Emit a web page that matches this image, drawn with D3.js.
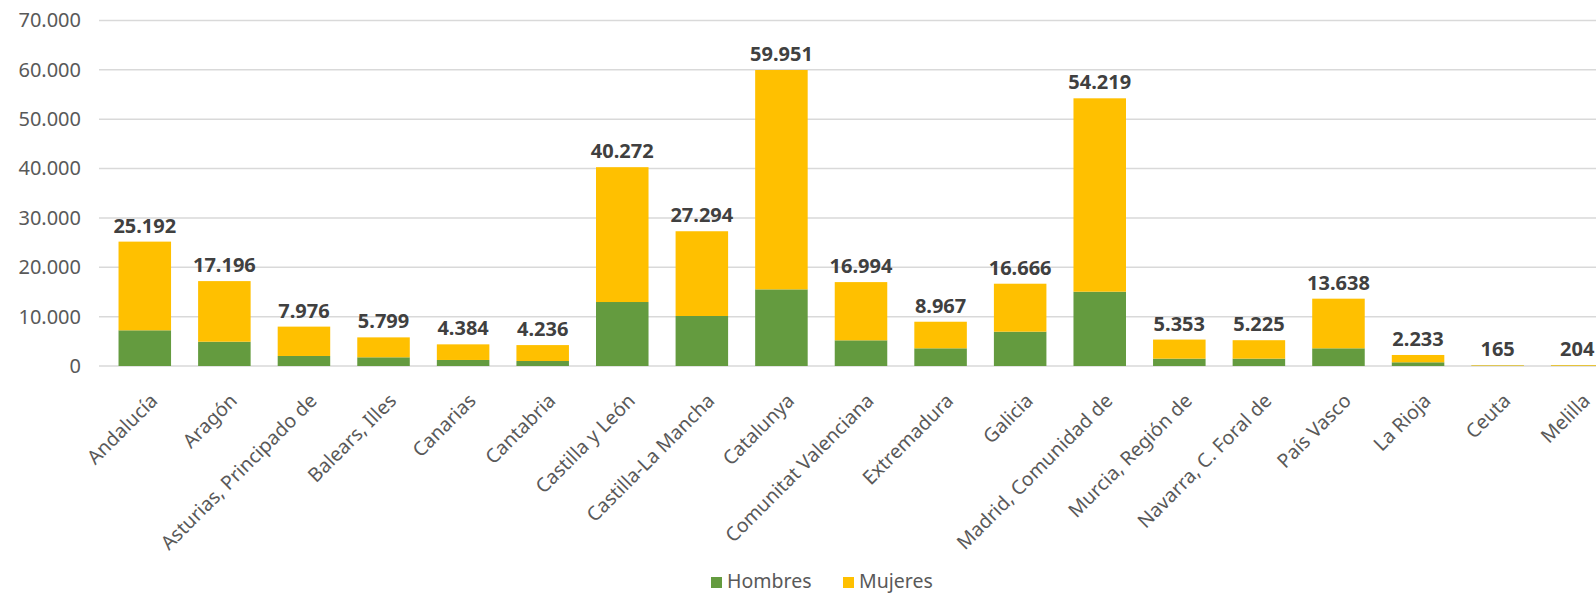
<!DOCTYPE html>
<html><head><meta charset="utf-8">
<script src="https://cdn.jsdelivr.net/npm/d3@7"></script>
<style>body{margin:0;background:#fff}svg{display:block}</style>
</head><body><svg id="c" width="1596" height="593"></svg>
<script>
const categories = ["Andalucía","Aragón","Asturias, Principado de","Balears, Illes","Canarias","Cantabria","Castilla y León","Castilla-La Mancha","Catalunya","Comunitat Valenciana","Extremadura","Galicia","Madrid, Comunidad de","Murcia, Región de","Navarra, C. Foral de","País Vasco","La Rioja","Ceuta","Melilla"];
const totals = [25192,17196,7976,5799,4384,4236,40272,27294,59951,16994,8967,16666,54219,5353,5225,13638,2233,165,204];
const hombres = [7230,4920,2030,1760,1220,1010,12960,10130,15520,5200,3580,6950,15050,1490,1490,3580,750,60,70];
const mujeres = totals.map((t,i)=>t-hombres[i]);
const yTicks = [0,10000,20000,30000,40000,50000,60000,70000];
const seriesNames = ["Hombres","Mujeres"];
const colors = ["#649b3f","#ffc000"];

const fmt = v => d3.format(",")(v).replace(/,/g,".");
const svg = d3.select("#c");
const font = "'Noto Sans', sans-serif";

const x = d3.scaleBand().domain(categories).range([105,1617]).paddingInner(0.34).paddingOuter(0.17);
const y = d3.scaleLinear().domain([0,70000]).range([366,20.4]);

// gridlines
svg.append("g").selectAll("line").data(yTicks).join("line")
  .attr("x1",99).attr("x2",1596)
  .attr("y1",d=>y(d)).attr("y2",d=>y(d))
  .attr("stroke","#d9d9d9").attr("stroke-width",1.5);

// y axis labels
const yAxis = d3.axisLeft(y).tickValues(yTicks).tickFormat(fmt).tickSize(0).tickPadding(0);
const ya = svg.append("g").attr("transform","translate(81,0)").call(yAxis);
ya.select(".domain").remove();
ya.selectAll("text").attr("font-family",font).attr("font-size",20).attr("fill","#595959");

// stacked bars
const rows = categories.map((c,i)=>({cat:c,Hombres:hombres[i],Mujeres:mujeres[i]}));
const stack = d3.stack().keys(seriesNames)(rows);
svg.append("g").selectAll("g").data(stack).join("g").attr("fill",(d,i)=>colors[i])
  .selectAll("rect").data(d=>d).join("rect")
  .attr("x",d=>x(d.data.cat)).attr("width",x.bandwidth())
  .attr("y",d=>y(d[1])).attr("height",d=>y(d[0])-y(d[1]));

// total labels
svg.append("g").selectAll("text").data(categories).join("text")
  .attr("x",c=>x(c)+x.bandwidth()/2)
  .attr("y",(c,i)=>y(totals[i])-16)
  .attr("dy","0.35em")
  .attr("text-anchor","middle")
  .attr("font-family",font).attr("font-weight","bold").attr("font-size",20)
  .attr("fill","#404040")
  .text((c,i)=>fmt(totals[i]));

// x labels
svg.append("g").selectAll("text").data(categories).join("text")
  .attr("transform",c=>`translate(${x(c)+x.bandwidth()/2+14},402) rotate(-45)`)
  .attr("text-anchor","end")
  .attr("font-family",font).attr("font-size",19.5).attr("fill","#595959")
  .text(c=>c);

// legend
const lg = svg.append("g");
const items = [{n:"Hombres",c:colors[0],x:711},{n:"Mujeres",c:colors[1],x:843}];
items.forEach(it=>{
  lg.append("rect").attr("x",it.x).attr("y",577).attr("width",11).attr("height",11).attr("fill",it.c);
  lg.append("text").attr("x",it.x+16).attr("y",588)
    .attr("font-family",font).attr("font-size",19.5).attr("fill","#595959").text(it.n);
});
</script></body></html>
